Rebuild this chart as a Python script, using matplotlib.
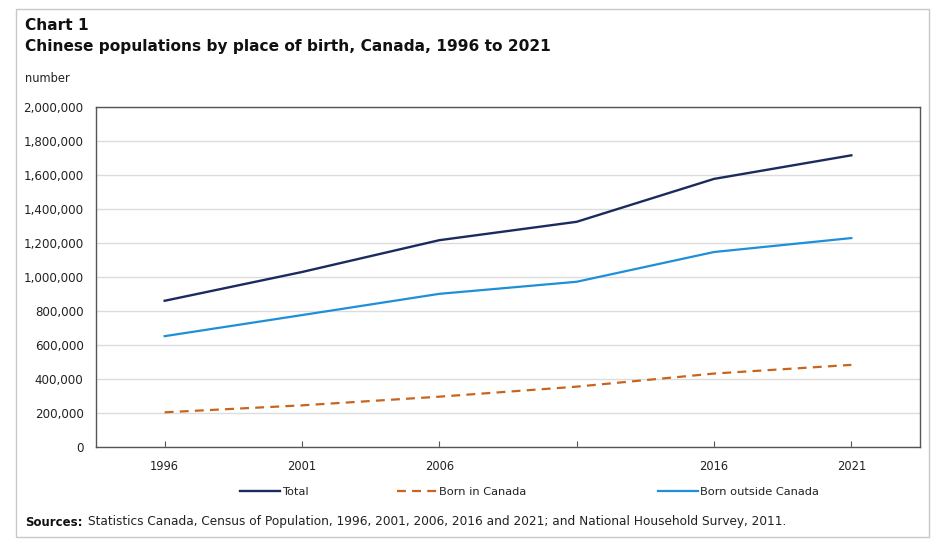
import matplotlib
matplotlib.use("Agg")
import matplotlib.pyplot as plt
from matplotlib.patches import Rectangle
from matplotlib.ticker import FuncFormatter

years = [1996, 2001, 2006, 2011, 2016, 2021]
year_labels = ["1996", "2001", "2006", "", "2016", "2021"]
total = [860150, 1029395, 1216570, 1324700, 1577060, 1715770]
born_in_canada = [204000, 245000, 296000, 355000, 432000, 483000]
born_outside = [652000, 776000, 901000, 972000, 1147000, 1229000]
yticks = list(range(0, 2000001, 200000))

plt.rcParams['font.family'] = ['DejaVu Sans']

W, H = 941, 545
fig = plt.figure(figsize=(W / 100, H / 100), dpi=100)
fig.patch.set_facecolor("white")
fig.add_artist(Rectangle((16 / W, 1 - 537 / H), (929 - 16) / W, (537 - 9) / H,
                         transform=fig.transFigure, fill=False,
                         edgecolor="#c8c8c8", linewidth=1))

ax = fig.add_axes([96 / W, 1 - 447 / H, (920 - 96) / W, (447 - 107) / H])
x = list(range(len(years)))
c_total = "#1b2b5e"
c_in = "#c8641e"
c_out = "#1f8fd8"
l1, = ax.plot(x, total, color=c_total, lw=1.7, label="Total")
l2, = ax.plot(x, born_in_canada, color=c_in, lw=1.6, linestyle=(0, (4, 2.8)),
              label="Born in Canada")
l3, = ax.plot(x, born_outside, color=c_out, lw=1.6, label="Born outside Canada")

ax.set_xlim(-0.5, len(years) - 0.5)
ax.set_ylim(0, 2000000)
ax.set_yticks(yticks)
ax.yaxis.set_major_formatter(FuncFormatter(lambda v, p: f"{int(v):,}"))
ax.set_xticks(x)
ax.set_xticklabels(year_labels)
ax.tick_params(axis="y", length=0, pad=9, labelsize=8.6, labelcolor="#222222")
ax.tick_params(axis="x", direction="in", length=4, width=0.8, color="#555555",
               pad=9, labelsize=8.3, labelcolor="#222222")
ax.grid(axis="y", color="#dcdcdc", lw=1)
ax.set_axisbelow(True)
for s in ax.spines.values():
    s.set_color("#555555")
    s.set_linewidth(1)

fig.text(25 / W, 1 - 25 / H, "Chart 1", fontsize=11.1, fontweight="bold",
         va="center", ha="left", color="#111111")
fig.text(25 / W, 1 - 46 / H, "Chinese populations by place of birth, Canada, 1996 to 2021",
         fontsize=11.1, fontweight="bold", va="center", ha="left", color="#111111")
fig.text(25 / W, 1 - 78 / H, "number", fontsize=8.3, va="center", ha="left",
         color="#222222")

for h, x0 in [(l1, 240), (l2, 397), (l3, 658)]:
    fig.legend([h], [h.get_label()], loc="center left",
               bbox_to_anchor=(x0 / W, 1 - 492 / H), frameon=False,
               fontsize=8.2, handlelength=3.5, handletextpad=0.15,
               borderpad=0, borderaxespad=0, labelcolor="#222222")

t_bold = fig.text(25 / W, 1 - 522 / H, "Sources:", fontsize=8.5, fontweight="bold",
                  va="center", ha="left", color="#111111")
fig.canvas.draw()
bb = t_bold.get_window_extent()
fig.text((bb.x1 + 5) / W, 1 - 522 / H,
         "Statistics Canada, Census of Population, 1996, 2001, 2006, 2016 and 2021; "
         "and National Household Survey, 2011.",
         fontsize=8.7, va="center", ha="left", color="#222222")

fig.savefig("out.png", dpi=100, facecolor="white")
